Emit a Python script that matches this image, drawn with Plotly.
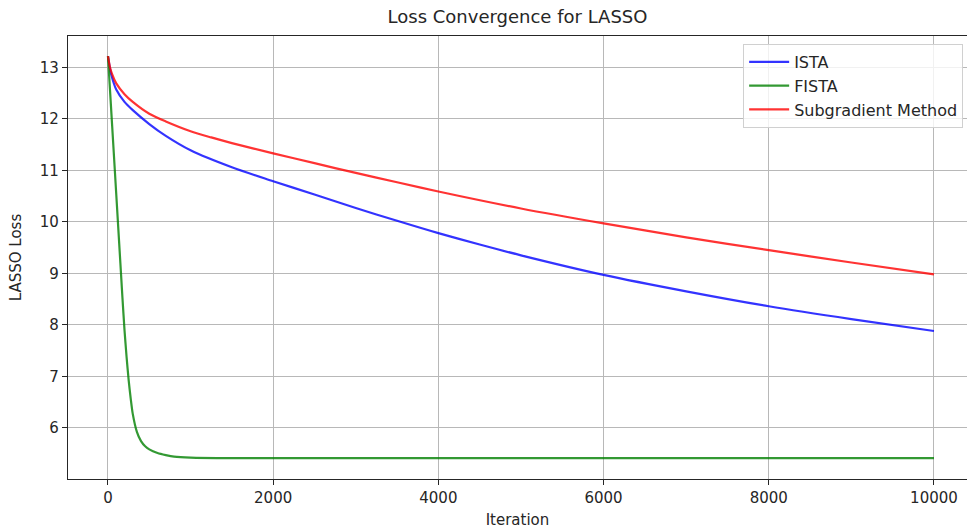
import plotly.graph_objects as go

iters_ista = [0, 25, 50, 100, 200, 300, 500, 700, 1000, 1500, 2000, 2500, 3000, 3500, 4000, 4500, 5000, 6000, 7000, 8000, 9000, 10000]
loss_ista = [13.22, 12.97, 12.8, 12.57, 12.33, 12.17, 11.9, 11.67, 11.39, 11.06, 10.79, 10.53, 10.27, 10.02, 9.78, 9.56, 9.35, 8.97, 8.65, 8.36, 8.11, 7.88]

iters_sub = [0, 25, 50, 100, 200, 300, 500, 700, 1000, 1250, 1500, 2000, 2500, 3000, 3500, 4000, 5000, 6000, 7000, 8000, 9000, 10000]
loss_sub = [13.22, 13.0, 12.87, 12.69, 12.48, 12.33, 12.1, 11.95, 11.76, 11.64, 11.53, 11.33, 11.14, 10.95, 10.77, 10.59, 10.26, 9.97, 9.7, 9.45, 9.21, 8.98]

iters_fista = [0, 50, 100, 150, 175, 200, 225, 250, 275, 300, 350, 400, 450, 500, 600, 700, 800, 1000, 1500, 2000, 4000, 6000, 8000, 10000]
loss_fista = [13.22, 11.88, 10.54, 9.2, 8.53, 7.9, 7.38, 6.93, 6.57, 6.27, 5.92, 5.74, 5.64, 5.58, 5.51, 5.47, 5.44, 5.42, 5.41, 5.41, 5.41, 5.41, 5.41, 5.41]

x_ticks = [0, 2000, 4000, 6000, 8000, 10000]
y_ticks = [6, 7, 8, 9, 10, 11, 12, 13]

fig = go.Figure()
fig.add_trace(go.Scatter(x=iters_ista, y=loss_ista, mode="lines", name="ISTA",
                         line=dict(color="rgba(0,0,255,0.8)", width=2.2, shape="spline", smoothing=0.8)))
fig.add_trace(go.Scatter(x=iters_fista, y=loss_fista, mode="lines", name="FISTA",
                         line=dict(color="rgba(0,128,0,0.8)", width=2.2, shape="spline", smoothing=0.6)))
fig.add_trace(go.Scatter(x=iters_sub, y=loss_sub, mode="lines", name="Subgradient Method",
                         line=dict(color="rgba(255,0,0,0.8)", width=2.2, shape="spline", smoothing=0.8)))

axis_common = dict(
    showgrid=True, gridcolor="#b8b8b8", gridwidth=1,
    showline=True, linecolor="#262626", linewidth=1.2,
    ticks="outside", ticklen=5, tickcolor="#262626", tickwidth=1.2,
    tickfont=dict(family="DejaVu Sans", size=15, color="#262626"),
    zeroline=False, automargin=False,
)

fig.update_layout(
    width=967, height=529,
    paper_bgcolor="white", plot_bgcolor="white",
    margin=dict(l=68, r=0, t=36, b=50),
    font=dict(family="DejaVu Sans", color="#262626"),
    title=dict(text="Loss Convergence for LASSO", x=0.5, xref="paper", xanchor="center",
               y=1 - 17 / 529, yanchor="middle",
               font=dict(family="DejaVu Sans", size=18, color="#262626")),
    xaxis=dict(range=[-484, 10400], tickvals=x_ticks, ticktext=[str(v) for v in x_ticks],
               mirror=True,
               title=dict(text="Iteration", standoff=9, font=dict(family="DejaVu Sans", size=15, color="#262626")),
               **axis_common),
    yaxis=dict(range=[5.005, 13.61], tickvals=y_ticks, ticktext=[str(v) for v in y_ticks],
               title=dict(text="LASSO Loss", standoff=14, font=dict(family="DejaVu Sans", size=15, color="#262626")),
               **axis_common),
    legend=dict(x=0.751, y=0.982, xanchor="left", yanchor="top",
                bgcolor="rgba(255,255,255,0.8)", bordercolor="#d0d0d0", borderwidth=1,
                font=dict(family="DejaVu Sans", size=16, color="#262626"),
                tracegroupgap=0, itemwidth=40),
    showlegend=True,
)

fig.write_html("out.html", config={"displayModeBar": False},
               post_script="document.body.style.margin='0px';document.body.style.padding='0px';")
